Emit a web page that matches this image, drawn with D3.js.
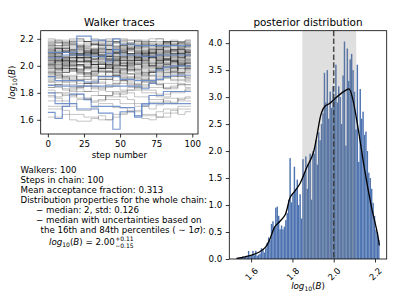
<!DOCTYPE html>
<html><head><meta charset="utf-8">
<script src="https://cdn.jsdelivr.net/npm/d3@7"></script>
<style>body{margin:0;background:#fff} svg{font-family:"DejaVu Sans",sans-serif}</style>
</head><body><svg id="c" width="407" height="305"></svg>
<script>
// ---------------- data ----------------
const traceSteps = [0,5,10,15,20,25,30,35,40,45,50,55,60,65,70,75,80,85,90,95];
const lastStep = 99;
const grayWalkers = [
[2.18,2.18,2.17,2.19,2.19,2.18,2.16,2.16,2.18,2.18,2.17,2.17,2.19,2.19,2.18,2.18,2.17,2.18,2.18,2.18],
[2.16,2.15,2.15,2.13,2.13,2.15,2.17,2.17,2.16,2.14,2.14,2.12,2.12,2.14,2.15,2.15,2.16,2.16,2.17,2.17],
[2.20,2.19,2.19,2.17,2.14,2.14,2.16,2.16,2.18,2.20,2.20,2.19,2.17,2.17,2.15,2.15,2.16,2.18,2.18,2.19],
[2.13,2.13,2.11,2.11,2.14,2.16,2.16,2.15,2.12,2.12,2.10,2.13,2.13,2.15,2.15,2.17,2.17,2.15,2.14,2.14],
[2.17,2.17,2.18,2.20,2.20,2.18,2.18,2.15,2.15,2.17,2.19,2.19,2.18,2.16,2.16,2.14,2.14,2.16,2.17,2.17],
[2.11,2.12,2.12,2.14,2.14,2.12,2.10,2.10,2.13,2.13,2.15,2.15,2.13,2.11,2.11,2.12,2.14,2.14,2.13,2.13],
[2.19,2.17,2.17,2.16,2.18,2.18,2.20,2.19,2.19,2.17,2.16,2.16,2.18,2.18,2.20,2.20,2.18,2.17,2.17,2.16],
[2.14,2.14,2.16,2.16,2.13,2.11,2.11,2.13,2.15,2.15,2.14,2.14,2.16,2.17,2.17,2.14,2.12,2.12,2.14,2.14],
[2.09,2.09,2.07,2.07,2.10,2.10,2.12,2.11,2.11,2.09,2.08,2.08,2.10,2.10,2.12,2.12,2.10,2.09,2.09,2.11],
[2.06,2.07,2.07,2.09,2.09,2.08,2.05,2.05,2.07,2.09,2.09,2.11,2.11,2.08,2.06,2.06,2.08,2.08,2.10,2.10],
[2.12,2.10,2.10,2.08,2.08,2.11,2.11,2.13,2.12,2.12,2.10,2.07,2.07,2.09,2.09,2.11,2.11,2.13,2.12,2.12],
[2.04,2.04,2.06,2.06,2.03,2.03,2.05,2.08,2.08,2.06,2.06,2.04,2.04,2.06,2.07,2.07,2.05,2.05,2.07,2.07],
[2.08,2.08,2.10,2.12,2.12,2.09,2.09,2.07,2.07,2.10,2.10,2.08,2.06,2.06,2.09,2.09,2.11,2.11,2.09,2.09],
[2.10,2.11,2.11,2.09,2.06,2.06,2.08,2.08,2.11,2.11,2.13,2.13,2.10,2.10,2.08,2.08,2.10,2.12,2.12,2.11],
[2.05,2.05,2.03,2.03,2.06,2.06,2.09,2.09,2.07,2.04,2.04,2.06,2.06,2.08,2.08,2.05,2.05,2.03,2.03,2.05],
[2.07,2.06,2.06,2.08,2.08,2.10,2.10,2.07,2.05,2.05,2.07,2.09,2.09,2.07,2.07,2.04,2.04,2.06,2.08,2.08],
[2.13,2.13,2.10,2.10,2.09,2.09,2.12,2.12,2.14,2.14,2.11,2.11,2.09,2.09,2.11,2.13,2.13,2.11,2.11,2.10],
[2.02,2.04,2.04,2.06,2.06,2.04,2.02,2.02,2.05,2.05,2.07,2.07,2.04,2.04,2.02,2.02,2.05,2.05,2.04,2.04],
[2.09,2.09,2.11,2.11,2.08,2.08,2.06,2.06,2.09,2.11,2.11,2.09,2.09,2.07,2.07,2.10,2.10,2.12,2.12,2.10],
[2.11,2.13,2.13,2.11,2.11,2.09,2.09,2.12,2.12,2.10,2.10,2.12,2.14,2.14,2.12,2.12,2.09,2.09,2.11,2.11],
[2.00,2.00,1.98,1.98,2.01,2.01,2.03,2.03,2.00,1.98,1.98,2.00,2.02,2.02,2.00,2.00,1.97,1.97,2.00,2.00],
[1.97,1.97,1.99,2.01,2.01,1.99,1.99,1.96,1.96,1.99,1.99,2.01,2.01,1.98,1.96,1.96,1.99,1.99,2.01,2.01],
[2.03,2.01,2.01,2.03,2.03,2.05,2.05,2.02,2.00,2.00,2.02,2.02,2.05,2.05,2.03,2.01,2.01,2.03,2.03,2.02],
[1.95,1.95,1.97,1.97,1.94,1.94,1.96,1.99,1.99,1.97,1.97,1.94,1.94,1.96,1.98,1.98,1.96,1.96,1.98,1.98],
[2.01,2.03,2.03,2.00,2.00,1.98,1.98,2.01,2.01,2.04,2.04,2.02,2.02,1.99,1.99,2.02,2.04,2.04,2.02,2.02],
[1.99,1.99,1.96,1.96,1.98,1.98,2.01,2.01,1.99,1.99,1.96,1.96,1.98,2.00,2.00,1.98,1.98,1.95,1.95,1.98],
[2.04,2.04,2.06,2.06,2.03,2.03,2.01,2.01,2.04,2.04,2.06,2.04,2.04,2.02,2.02,2.05,2.05,2.07,2.07,2.05],
[1.96,1.98,1.98,2.00,2.00,1.97,1.97,1.95,1.95,1.98,1.98,2.00,2.00,1.97,1.97,1.99,1.99,2.02,2.02,2.00],
[2.02,2.02,2.00,2.00,2.03,2.03,2.00,1.98,1.98,2.01,2.01,2.03,2.03,2.01,1.99,1.99,2.01,2.01,2.04,2.04],
[1.98,1.98,2.00,2.00,1.97,1.95,1.95,1.98,1.98,2.00,2.00,1.97,1.97,1.95,1.95,1.98,2.00,2.00,1.98,1.98],
[2.00,1.98,1.98,1.96,1.96,1.99,1.99,2.02,2.02,2.00,2.00,1.97,1.97,2.00,2.00,2.03,2.03,2.00,2.00,1.99],
[2.05,2.05,2.02,2.02,2.04,2.04,2.07,2.07,2.05,2.05,2.02,2.02,2.05,2.05,2.07,2.07,2.04,2.04,2.02,2.02],
[1.91,1.91,1.93,1.93,1.90,1.90,1.92,1.92,1.95,1.95,1.92,1.92,1.90,1.90,1.93,1.93,1.95,1.95,1.92,1.92],
[1.88,1.88,1.90,1.90,1.87,1.87,1.89,1.92,1.92,1.89,1.89,1.87,1.87,1.90,1.90,1.92,1.92,1.90,1.90,1.88],
[1.93,1.93,1.91,1.91,1.94,1.94,1.96,1.96,1.93,1.93,1.90,1.90,1.93,1.93,1.95,1.95,1.92,1.92,1.94,1.94],
[1.86,1.86,1.88,1.88,1.85,1.85,1.83,1.83,1.86,1.86,1.89,1.89,1.86,1.86,1.84,1.84,1.87,1.87,1.89,1.89],
[1.90,1.92,1.92,1.89,1.89,1.87,1.87,1.90,1.90,1.93,1.93,1.91,1.91,1.88,1.88,1.91,1.91,1.94,1.94,1.91],
[1.84,1.84,1.82,1.82,1.85,1.85,1.88,1.88,1.85,1.85,1.82,1.82,1.84,1.84,1.87,1.87,1.84,1.84,1.86,1.86],
[1.80,1.80,1.78,1.78,1.81,1.81,1.84,1.84,1.81,1.79,1.79,1.82,1.82,1.80,1.80,1.77,1.77,1.80,1.80,1.82],
[1.77,1.77,1.79,1.79,1.76,1.76,1.74,1.74,1.77,1.77,1.80,1.80,1.77,1.77,1.75,1.75,1.73,1.73,1.76,1.76],
[1.82,1.80,1.80,1.83,1.83,1.81,1.81,1.78,1.78,1.81,1.81,1.84,1.84,1.82,1.82,1.79,1.79,1.81,1.81,1.83],
[1.74,1.74,1.72,1.72,1.75,1.75,1.78,1.78,1.75,1.75,1.72,1.72,1.70,1.70,1.73,1.73,1.76,1.76,1.74,1.74],
[1.70,1.70,1.67,1.64,1.64,1.62,1.62,1.60,1.60,1.64,1.64,1.67,1.67,1.63,1.63,1.66,1.68,1.68,1.70,1.70],
[1.68,1.68,1.70,1.70,1.67,1.67,1.69,1.72,1.72,1.69,1.69,1.66,1.66,1.64,1.64,1.62,1.62,1.65,1.68,1.68],
[1.92,1.95,1.95,1.97,1.97,1.94,1.94,1.96,1.96,1.93,1.91,1.91,1.94,1.94,1.96,1.96,1.99,1.99,1.96,1.96],
[2.07,2.07,2.05,2.05,2.08,2.08,2.10,2.10,2.07,2.07,2.05,2.05,2.08,2.10,2.10,2.08,2.08,2.06,2.06,2.09],
[2.15,2.15,2.17,2.17,2.15,2.13,2.13,2.16,2.16,2.18,2.18,2.16,2.16,2.14,2.14,2.16,2.18,2.18,2.16,2.16],
[1.94,1.94,1.92,1.92,1.90,1.90,1.93,1.93,1.96,1.96,1.94,1.94,1.91,1.91,1.89,1.89,1.92,1.92,1.95,1.95],
[2.01,2.01,2.04,2.04,2.06,2.06,2.03,2.03,2.01,2.01,2.04,2.04,2.07,2.07,2.04,2.04,2.02,2.02,2.05,2.05],
[1.88,1.86,1.86,1.84,1.84,1.87,1.87,1.90,1.90,1.87,1.87,1.85,1.85,1.88,1.88,1.86,1.83,1.83,1.86,1.86],
[2.05,2.07,2.04,2.06,2.09,2.07,2.05,2.08,2.10,2.07,2.06,2.09,2.11,2.08,2.06,2.05,2.08,2.10,2.09,2.07],
[2.12,2.10,2.13,2.15,2.12,2.10,2.11,2.14,2.12,2.09,2.11,2.13,2.15,2.13,2.10,2.12,2.14,2.11,2.13,2.15],
[1.98,2.00,2.02,1.99,1.97,2.00,2.03,2.01,1.98,2.00,2.02,2.04,2.01,1.99,2.02,2.00,1.97,1.99,2.02,2.00],
[2.08,2.05,2.03,2.06,2.08,2.11,2.09,2.06,2.04,2.07,2.09,2.06,2.04,2.07,2.10,2.08,2.05,2.07,2.09,2.06],
[2.15,2.17,2.14,2.12,2.15,2.18,2.16,2.13,2.15,2.17,2.19,2.16,2.14,2.16,2.13,2.15,2.18,2.16,2.14,2.16],
[1.94,1.96,1.99,1.97,1.95,1.93,1.96,1.98,2.00,1.97,1.95,1.98,1.96,1.93,1.95,1.98,2.00,1.98,1.95,1.97],
[2.02,2.04,2.01,2.03,2.06,2.04,2.01,1.99,2.02,2.05,2.03,2.00,2.02,2.05,2.07,2.04,2.02,2.04,2.01,2.03],
[2.10,2.08,2.11,2.09,2.06,2.08,2.12,2.10,2.07,2.09,2.12,2.14,2.11,2.08,2.10,2.13,2.11,2.08,2.10,2.12],
[1.89,1.91,1.88,1.86,1.89,1.92,1.90,1.87,1.90,1.93,1.91,1.88,1.86,1.89,1.92,1.94,1.91,1.89,1.92,1.90],
[2.06,2.03,2.05,2.08,2.06,2.03,2.05,2.07,2.04,2.02,2.05,2.08,2.06,2.03,2.06,2.09,2.07,2.04,2.06,2.08],
[2.17,2.19,2.16,2.18,2.20,2.17,2.15,2.18,2.20,2.18,2.15,2.17,2.19,2.16,2.18,2.20,2.17,2.15,2.17,2.19],
[1.99,1.97,1.95,1.98,2.01,1.99,1.96,1.98,2.01,2.03,2.00,1.97,1.99,2.02,2.00,1.97,1.95,1.98,2.01,1.99],
[2.03,2.06,2.04,2.01,2.03,2.06,2.08,2.05,2.03,2.06,2.04,2.01,2.04,2.07,2.05,2.02,2.05,2.08,2.06,2.03],
[2.11,2.13,2.10,2.08,2.11,2.13,2.11,2.08,2.10,2.13,2.15,2.12,2.10,2.12,2.09,2.11,2.14,2.12,2.09,2.11],
[1.96,1.93,1.95,1.98,1.95,1.92,1.94,1.97,1.99,1.96,1.94,1.97,1.95,1.92,1.95,1.97,1.94,1.96,1.99,1.97],
[2.08,2.10,2.13,2.11,2.08,2.06,2.09,2.11,2.08,2.10,2.07,2.05,2.08,2.11,2.09,2.06,2.09,2.11,2.08,2.10],
[1.84,1.86,1.83,1.81,1.84,1.87,1.85,1.82,1.84,1.87,1.89,1.86,1.83,1.85,1.88,1.86,1.83,1.85,1.87,1.84],
[2.01,1.99,2.02,2.04,2.01,1.99,2.01,2.04,2.06,2.03,2.00,2.02,2.05,2.03,2.00,2.02,2.05,2.03,2.00,2.02],
[2.14,2.11,2.13,2.16,2.14,2.11,2.13,2.15,2.12,2.10,2.13,2.16,2.14,2.11,2.13,2.16,2.18,2.15,2.13,2.15],
[2.04,2.02,2.00,2.03,2.05,2.02,2.04,2.07,2.05,2.02,2.00,2.03,2.06,2.04,2.01,2.04,2.06,2.03,2.05,2.08],
[1.92,1.94,1.91,1.89,1.92,1.95,1.93,1.90,1.92,1.95,1.97,1.94,1.92,1.95,1.93,1.90,1.93,1.96,1.94,1.91],
[2.09,2.07,2.10,2.12,2.09,2.07,2.10,2.08,2.05,2.08,2.11,2.09,2.06,2.09,2.12,2.10,2.07,2.09,2.12,2.10],
[1.62,1.62,1.64,1.60,1.59,1.59,1.61,1.63,1.60,1.62,1.65,1.66,1.63,1.61,1.60,1.62,1.65,1.67,1.64,1.66],
[1.78,1.76,1.74,1.77,1.79,1.76,1.73,1.75,1.78,1.80,1.77,1.75,1.72,1.70,1.68,1.71,1.74,1.72,1.75,1.77],
[2.00,2.03,2.05,2.02,2.00,2.03,2.01,1.98,2.01,2.04,2.02,1.99,2.01,2.04,2.06,2.03,2.01,2.03,2.00,2.02],
[2.16,2.13,2.15,2.18,2.16,2.14,2.16,2.19,2.17,2.14,2.16,2.13,2.15,2.18,2.16,2.14,2.17,2.19,2.16,2.14],
[1.95,1.97,2.00,1.98,1.96,1.99,2.01,1.98,1.96,1.94,1.97,1.99,1.97,1.94,1.96,1.99,2.02,1.99,1.97,1.99],
[2.07,2.09,2.06,2.04,2.07,2.10,2.08,2.05,2.07,2.10,2.12,2.09,2.07,2.09,2.06,2.08,2.11,2.09,2.06,2.08]
];
const blueWalkers = [
[2.10,2.10,2.10,2.10,2.22,2.22,2.19,2.19,2.03,2.20,2.16,2.16,2.15,2.15,2.15,2.15,2.15,2.15,2.15,2.15],
[2.06,2.06,2.08,2.08,2.08,2.08,2.07,2.07,2.09,2.12,2.08,2.08,2.08,2.07,2.07,2.08,2.08,2.08,2.08,2.08],
[1.92,1.89,1.89,1.89,1.89,1.88,1.88,1.92,1.92,1.92,1.90,1.90,1.89,1.89,1.89,1.97,1.99,2.00,2.00,2.00],
[1.855,1.85,1.85,1.85,1.85,1.85,1.85,1.85,1.85,1.85,1.85,1.85,1.85,1.83,1.87,1.90,1.92,1.93,1.93,1.93],
[1.655,1.61,1.70,1.79,1.79,1.75,1.70,1.70,1.70,1.70,1.69,1.69,1.63,1.71,1.78,1.78,1.81,1.81,1.81,1.81],
[1.80,1.72,1.72,1.72,1.68,1.68,1.68,1.65,1.65,1.53,1.66,1.66,1.62,1.72,1.72,1.72,1.72,1.72,1.72,1.72]
];
const histStart = 1.529, histBinWidth = 0.00693;
const histDensity = [
0.02,0.02,0.03,0.02,0.05,0.03,0.05,0.04,0.15,0.05,
0.06,0.15,0.07,0.15,0.06,0.08,0.10,0.20,0.18,0.12,
0.20,0.30,0.40,0.35,0.65,0.70,0.60,0.95,0.97,0.80,
0.55,0.62,0.55,0.60,0.72,0.85,1.10,1.87,1.05,1.20,
1.71,1.30,1.47,1.00,1.20,0.75,1.85,1.60,1.90,1.30,
1.75,1.95,1.10,2.00,1.95,2.20,1.75,2.35,2.20,2.50,
2.70,3.45,2.90,3.50,2.60,3.10,2.80,3.20,3.00,3.60,
2.90,3.20,3.00,2.50,3.40,4.03,2.10,3.90,3.30,3.70,
3.80,3.50,3.10,2.40,3.60,1.80,3.15,2.60,2.73,2.30,
2.36,2.00,1.60,1.50,1.30,1.04,0.80,0.54,0.50,0.35
];
const kdeX = [1.53,1.57,1.61,1.64,1.67,1.69,1.715,1.74,1.765,1.79,1.81,1.837,1.87,1.90,1.917,1.94,1.957,1.98,2.00,2.03,2.06,2.075,2.09,2.117,2.15,2.181,2.213,2.221];
const kdeY = [0.01,0.04,0.08,0.13,0.22,0.36,0.60,0.70,0.82,1.15,1.25,1.40,1.70,1.95,2.25,2.70,2.83,2.88,2.95,3.05,3.13,3.15,3.00,2.45,1.65,1.00,0.45,0.25];
const medianVal = 2.00, lowerVal = 1.848, upperVal = 2.109;
const leftXTicks = [0,25,50,75,100];
const leftYTicks = [1.6,1.8,2.0,2.2];
const rightXTicks = [1.6,1.8,2.0,2.2];
const rightYTicks = [0,0.5,1,1.5,2,2.5,3,3.5,4];
const infoLines = ["Walkers: 100","Steps in chain: 100","Mean acceptance fraction: 0.313","Distribution properties for the whole chain:"];
const subLines = ["\u2212 median: 2, std: 0.126","\u2212 median with uncertainties based on"];

// ---------------- drawing ----------------
const svg = d3.select("#c");
const FS = 8.67, TFS = 10.4, BLUE = "#4c72b0";

const L = {x0:40.7, x1:198, y0:30.7, y1:134};
const R = {x0:229.3, x1:386.7, y0:30.7, y1:259};

const xL = d3.scaleLinear().domain([-4.95,103.95]).range([L.x0,L.x1]);
const yL = d3.scaleLinear().domain([1.495,2.26]).range([L.y1,L.y0]);
const xR = d3.scaleLinear().domain([1.4943,2.2567]).range([R.x0,R.x1]);
const yR = d3.scaleLinear().domain([0,4.23]).range([R.y1,R.y0]);

svg.append("defs").append("clipPath").attr("id","clipL").append("rect")
  .attr("x",L.x0).attr("y",L.y0).attr("width",L.x1-L.x0).attr("height",L.y1-L.y0);

function mathLabel(sel){
  sel.append("tspan").attr("font-style","italic").text("log");
  sel.append("tspan").attr("font-size",FS*0.7).attr("dy",FS*0.22).text("10");
  sel.append("tspan").attr("dy",-FS*0.22).text("(");
  sel.append("tspan").attr("font-style","italic").text("B");
  sel.append("tspan").text(")");
}

// ---- left panel: traces
const line = d3.line().x(d=>xL(d[0])).y(d=>yL(d[1])).curve(d3.curveStepAfter);
function pts(vals){ const p = vals.map((v,i)=>[traceSteps[i],v]); p.push([lastStep, vals[vals.length-1]]); return p; }
const gT = svg.append("g").attr("clip-path","url(#clipL)");
gT.selectAll("path.g").data(grayWalkers).join("path").attr("class","g")
  .attr("d",d=>line(pts(d))).attr("fill","none").attr("stroke","#000").attr("stroke-opacity",0.26).attr("stroke-width",0.9);
gT.selectAll("path.b").data(blueWalkers).join("path").attr("class","b")
  .attr("d",d=>line(pts(d))).attr("fill","none").attr("stroke","#5f84c6").attr("stroke-opacity",0.85).attr("stroke-width",1.15);

function styleAxis(g){
  g.select(".domain").remove();
  g.selectAll(".tick line").attr("stroke","#000").attr("stroke-width",0.8);
  g.selectAll(".tick text").attr("font-size",FS).attr("font-family","DejaVu Sans").attr("fill","#000");
}
svg.append("g").attr("transform",`translate(0,${L.y1})`)
  .call(d3.axisBottom(xL).tickValues(leftXTicks).tickFormat(d3.format("d")).tickSize(3.5).tickPadding(3.5)).call(styleAxis);
svg.append("g").attr("transform",`translate(${L.x0},0)`)
  .call(d3.axisLeft(yL).tickValues(leftYTicks).tickFormat(d3.format(".1f")).tickSize(3.5).tickPadding(3.5)).call(styleAxis);
svg.append("rect").attr("x",L.x0).attr("y",L.y0).attr("width",L.x1-L.x0).attr("height",L.y1-L.y0)
  .attr("fill","none").attr("stroke","#000").attr("stroke-width",0.8);
svg.append("text").attr("x",(L.x0+L.x1)/2).attr("y",25.5).attr("text-anchor","middle").attr("font-size",TFS).text("Walker traces");
svg.append("text").attr("x",(L.x0+L.x1)/2).attr("y",158).attr("text-anchor","middle").attr("font-size",FS).text("step number");
svg.append("text").attr("transform",`translate(15,${(L.y0+L.y1)/2}) rotate(-90)`).attr("text-anchor","middle").attr("font-size",FS).call(mathLabel);

// ---- info text
const TX = 20.5;
infoLines.forEach((t,i)=> svg.append("text").attr("x",TX).attr("y",173+10*i).attr("font-size",FS).text(t));
subLines.forEach((t,i)=> svg.append("text").attr("x",36).attr("y",213+10*i).attr("font-size",FS).text(t));
const l7 = svg.append("text").attr("x",40.5).attr("y",233).attr("font-size",FS);
l7.append("tspan").text("the 16th and 84th percentiles ( \u223C 1");
l7.append("tspan").attr("font-style","italic").text("\u03C3");
l7.append("tspan").text("):");
const f = svg.append("text").attr("x",49).attr("y",245).attr("font-size",FS);
mathLabel(f);
f.append("tspan").text(" = 2.00");
const fw = f.node().getComputedTextLength();
svg.append("text").attr("x",49+fw+0.5).attr("y",245-3.6).attr("font-size",FS*0.7).text("+0.11");
svg.append("text").attr("x",49+fw+0.5).attr("y",245+2.6).attr("font-size",FS*0.7).text("\u22120.15");

// ---- right panel: histogram
const gH = svg.append("g");
gH.selectAll("rect").data(histDensity).join("rect")
  .attr("x",(d,i)=>xR(histStart+i*histBinWidth))
  .attr("width",(d,i)=>xR(histStart+(i+1)*histBinWidth)-xR(histStart+i*histBinWidth))
  .attr("y",d=>yR(d)).attr("height",d=>yR(0)-yR(d)).attr("fill",BLUE);
svg.append("rect").attr("x",xR(lowerVal)).attr("width",xR(upperVal)-xR(lowerVal))
  .attr("y",R.y0).attr("height",R.y1-R.y0).attr("fill","#808080").attr("fill-opacity",0.25);
const kde = d3.line().x((d,i)=>xR(kdeX[i])).y(d=>yR(d)).curve(d3.curveCatmullRom.alpha(0.5));
svg.append("path").attr("d",kde(kdeY)).attr("fill","none").attr("stroke","#000").attr("stroke-width",1.3);
svg.append("line").attr("x1",xR(medianVal)).attr("x2",xR(medianVal)).attr("y1",R.y0).attr("y2",R.y1)
  .attr("stroke","#333").attr("stroke-opacity",0.85).attr("stroke-width",1.5).attr("stroke-dasharray","5.5,2.4");

const axRx = svg.append("g").attr("transform",`translate(0,${R.y1})`)
  .call(d3.axisBottom(xR).tickValues(rightXTicks).tickFormat(d3.format(".1f")).tickSize(3.5).tickPadding(3.5)).call(styleAxis);
axRx.selectAll(".tick text").attr("y",null).attr("dy",null)
  .attr("transform","translate(0,15) rotate(-45)").attr("text-anchor","middle").attr("dominant-baseline","central");
svg.append("g").attr("transform",`translate(${R.x0},0)`)
  .call(d3.axisLeft(yR).tickValues(rightYTicks).tickFormat(d3.format(".1f")).tickSize(3.5).tickPadding(3.5)).call(styleAxis);
svg.append("rect").attr("x",R.x0).attr("y",R.y0).attr("width",R.x1-R.x0).attr("height",R.y1-R.y0)
  .attr("fill","none").attr("stroke","#000").attr("stroke-width",0.8);
svg.append("text").attr("x",(R.x0+R.x1)/2).attr("y",25.5).attr("text-anchor","middle").attr("font-size",TFS).text("posterior distribution");
svg.append("text").attr("x",(R.x0+R.x1)/2).attr("y",289).attr("text-anchor","middle").attr("font-size",FS).call(mathLabel);
</script></body></html>
